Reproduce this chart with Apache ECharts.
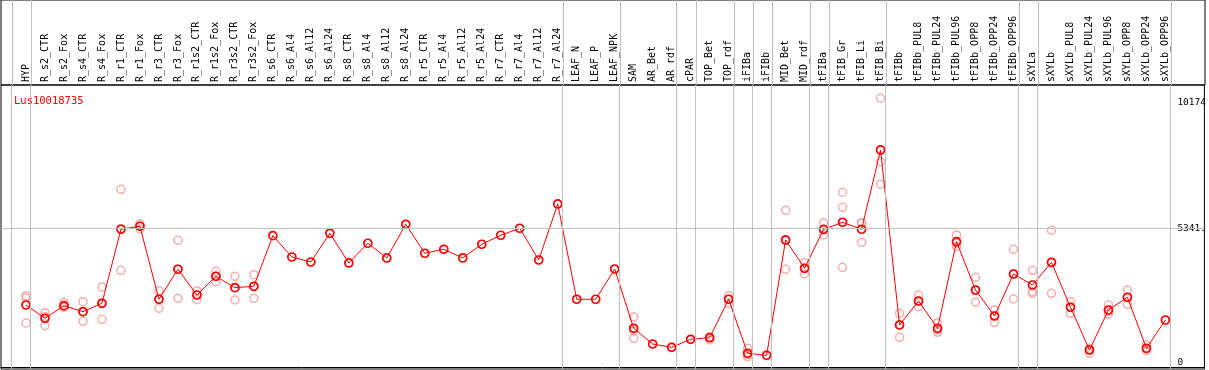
<!DOCTYPE html>
<html><head><meta charset="utf-8">
<script src="https://cdn.jsdelivr.net/npm/echarts@6/dist/echarts.min.js"></script>
<style>html,body{margin:0;padding:0;background:#fff}#c{width:1209px;height:370px}</style>
</head><body><div id="c"></div>
<script>
const categories = ["HYP","R_s2_CTR","R_s2_Fox","R_s4_CTR","R_s4_Fox","R_r1_CTR","R_r1_Fox","R_r3_CTR","R_r3_Fox","R_r1s2_CTR","R_r1s2_Fox","R_r3s2_CTR","R_r3s2_Fox","R_s6_CTR","R_s6_Al4","R_s6_Al12","R_s6_Al24","R_s8_CTR","R_s8_Al4","R_s8_Al12","R_s8_Al24","R_r5_CTR","R_r5_Al4","R_r5_Al12","R_r5_Al24","R_r7_CTR","R_r7_Al4","R_r7_Al12","R_r7_Al24","LEAF_N","LEAF_P","LEAF_NPK","SAM","AR_Bet","AR_rdf","cPAR","TOP_Bet","TOP_rdf","iFIBa","iFIBb","MID_Bet","MID_rdf","tFIBa","tFIB_Gr","tFIB_Li","tFIB_Bi","tFIBb","tFIBb_PUL8","tFIBb_PUL24","tFIBb_PUL96","tFIBb_OPP8","tFIBb_OPP24","tFIBb_OPP96","sXYLa","sXYLb","sXYLb_PUL8","sXYLb_PUL24","sXYLb_PUL96","sXYLb_OPP8","sXYLb_OPP24","sXYLb_OPP96"];
const means = [2384,1871,2357,2125,2449,5304,5419,2604,3761,2769,3491,3051,3105,5057,4235,4042,5149,4004,4764,4197,5496,4378,4532,4197,4725,5072,5342,4119,6279,2604,2604,3772,1485,879,752,1061,1122,2604,521,444,4891,3799,5304,5574,5304,8362,1612,2538,1485,4825,2962,1959,3579,3155,4031,2295,648,2191,2681,714,1805];
const replicates = [[2742,2665,1689],[2087,1585,1940],[2472,2318,2287],[2511,1755,2114],[3078,1832,2438],[6846,3722,5334],[5508,5315,5431],[2935,2256,2615],[4879,2642,3772],[2935,2588,2769],[3684,3282,3491],[3491,2577,3051],[3552,2642,3105],[],[],[],[],[],[],[],[],[],[],[],[],[],[],[],[],[],[],[],[1921,1099,1381],[],[],[],[1034,1150],[2742,2449,2604],[714,390,460],[],[6036,3761,4876],[4015,3579,3800],[5558,5084,5270],[6731,6152,3838],[5558,4802,5550],[10356,7911,7039],[2064,1138,1630],[2769,2318,2530],[1701,1331,1420],[5084,4632,4760],[3452,2488,2950],[2191,1716,1970],[4532,2615,3590],[3722,2897,2835],[5265,2835,4000],[2511,2064,2300],[714,521,650],[2384,2037,2150],[2962,2411,2670],[841,621,700],[]];
const separatorsAfter = [-1,0,28,31,34,35,37,38,39,41,42,45,52,53,60];
const yTickValues = [0,5341,10174];
const yTickLabels = ["0","5341.","10174"];
const geneName = "Lus10018735";

const xMin = -25/19, xMax = 1179/19;
const sepLines = separatorsAfter.map(k => ({xAxis: k + 0.25}));
const repData = [];
replicates.forEach((arr, i) => arr.forEach(v => repData.push([i, v])));
const meanData = means.map((v, i) => [i, v]);
const mono = "'DejaVu Sans Mono', monospace";
const gray = '#c0c0c0';
const clear = 'rgba(0,0,0,0)';

const chart = echarts.init(document.getElementById('c'), null, {renderer: 'canvas'});
chart.setOption({
  animation: false,
  backgroundColor: '#fff',
  title: {text: geneName, left: 9, top: 91, textStyle: {color: '#ff0000', fontFamily: mono, fontSize: 10.5, fontWeight: 'normal'}},
  grid: [
    {left: 1, right: 4, top: 0, height: 85, show: true, borderColor: '#000', borderWidth: 1, backgroundColor: 'transparent'},
    {left: 1, right: 4, top: 85, bottom: 1, show: true, borderColor: '#000', borderWidth: 1, backgroundColor: 'transparent'}
  ],
  xAxis: [
    {gridIndex: 0, type: 'value', min: xMin, max: xMax, show: false},
    {gridIndex: 1, type: 'value', min: xMin, max: xMax, position: 'top',
     axisLine: {show: true, lineStyle: {color: '#000'}}, axisTick: {show: false}, splitLine: {show: false},
     axisLabel: {customValues: categories.map((c, i) => i), formatter: v => categories[Math.round(v)] || '',
       rotate: 90, margin: 3, color: '#000', fontFamily: mono, fontSize: 10}}
  ],
  yAxis: [
    {gridIndex: 0, type: 'value', min: 0, max: 1, show: false},
    {gridIndex: 1, type: 'value', min: -85, max: 10867, position: 'right',
     axisLine: {show: false}, axisTick: {show: false}, splitLine: {show: false},
     axisLabel: {inside: true, margin: 27, align: 'left', customValues: yTickValues,
       formatter: v => { const i = yTickValues.indexOf(v); const t = i >= 0 ? yTickLabels[i] : ''; return v === 0 ? '{z|' + t + '}' : t; },
       color: '#000', fontFamily: mono, fontSize: 9.5,
       rich: {z: {fontFamily: mono, fontSize: 9.5, color: '#000', padding: [0, 0, 9, 0]}}}}
  ],
  series: [
    {type: 'line', xAxisIndex: 0, yAxisIndex: 0, data: [], silent: true, z: 1,
     markLine: {silent: true, symbol: ['none', 'none'], label: {show: false}, lineStyle: {color: gray, width: 1, type: 'solid'}, data: sepLines}},
    {type: 'line', xAxisIndex: 1, yAxisIndex: 1, data: [], silent: true, z: 1,
     markLine: {silent: true, symbol: ['none', 'none'], label: {show: false}, lineStyle: {color: gray, width: 1, type: 'solid'},
       data: sepLines.concat([{yAxis: yTickValues[1]}])}},
    {type: 'scatter', xAxisIndex: 1, yAxisIndex: 1, data: repData, symbol: 'circle', symbolSize: 8, z: 2,
     itemStyle: {color: clear, borderColor: '#f09a9a', borderWidth: 1.5}},
    {type: 'line', xAxisIndex: 1, yAxisIndex: 1, data: meanData, symbol: 'circle', symbolSize: 8, z: 3,
     lineStyle: {color: '#ff0000', width: 1}, itemStyle: {color: clear, borderColor: '#ff0000', borderWidth: 1.7}}
  ]
});
</script></body></html>
